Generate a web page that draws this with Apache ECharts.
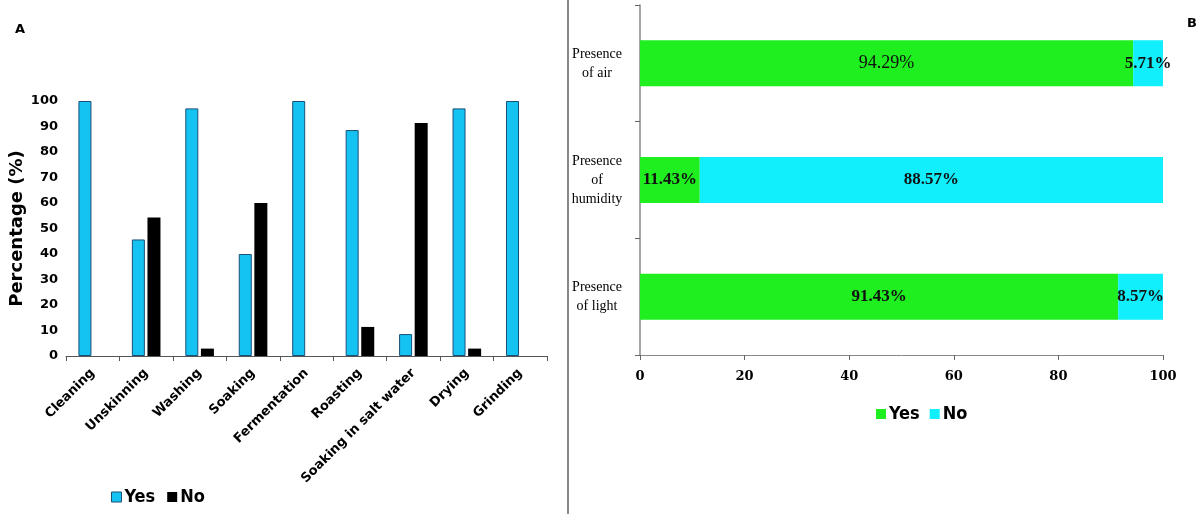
<!DOCTYPE html>
<html>
<head>
<meta charset="utf-8">
<script src="https://cdn.jsdelivr.net/npm/echarts@6/dist/echarts.min.js"></script>
<style>
  html, body { margin: 0; padding: 0; background: #fff; }
  #chart { width: 1197px; height: 514px; }
</style>
</head>
<body>
<div id="chart"></div>
<script>
  // panel A - processing steps
  var steps = ['Cleaning', 'Unskinning', 'Washing', 'Soaking', 'Fermentation', 'Roasting', 'Soaking in salt water', 'Drying', 'Grinding'];
  var stepsYes = [100, 45.7, 97.1, 40, 100, 88.6, 8.6, 97.1, 100];
  var stepsNo = [0, 54.3, 2.9, 60, 0, 11.4, 91.4, 2.9, 0];
  var percentTicks = [0, 10, 20, 30, 40, 50, 60, 70, 80, 90, 100];

  // panel B - storage conditions
  var conditions = ['Presence\nof air', 'Presence\nof\nhumidity', 'Presence\nof light'];
  var condYes = [94.29, 11.43, 91.43];
  var condNo = [5.71, 88.57, 8.57];

  var blue = '#15c3f2', green = '#1fee1f', cyan = '#11eefc';
  var sans = 'DejaVu Sans', cond = 'DejaVu Sans Condensed, DejaVu Sans', serif = 'Liberation Serif';

  var chart = echarts.init(document.getElementById('chart'));

  var option = {
    animation: false,
    title: [
      { text: 'A', left: 10, top: 18, textStyle: { fontFamily: sans, fontSize: 13, fontWeight: 'bold', color: '#000' } },
      { text: 'B', left: 1182, top: 12, textStyle: { fontFamily: sans, fontSize: 13, fontWeight: 'bold', color: '#000' } }
    ],
    graphic: [{
      type: 'line',
      shape: { x1: 568, y1: 0, x2: 568, y2: 514 },
      style: { stroke: '#888', lineWidth: 2 }
    }],
    legend: [
      {
        left: 106, top: 483, itemWidth: 10, itemHeight: 10, itemGap: 12, selectedMode: false,
        icon: 'rect',
        textStyle: { fontFamily: cond, fontSize: 18, fontWeight: 'bold', color: '#000', padding: [0, 0, 0, -2] },
        data: [
          { name: 'Yes', itemStyle: { color: blue, borderColor: '#1b4f78', borderWidth: 1 } },
          { name: 'No', itemStyle: { color: '#000', borderWidth: 0 } }
        ]
      },
      {
        left: 871, top: 400, itemWidth: 10, itemHeight: 10, itemGap: 10, selectedMode: false,
        icon: 'rect',
        textStyle: { fontFamily: cond, fontSize: 18, fontWeight: 'bold', color: '#000', padding: [0, 0, 0, -2] },
        data: [
          { name: 'Yes', itemStyle: { color: green, borderWidth: 0 } },
          { name: 'No', itemStyle: { color: cyan, borderWidth: 0 } }
        ]
      }
    ],
    grid: [
      { left: 66, right: 650, top: 101, bottom: 158 },
      { left: 640, right: 34, top: 5, bottom: 159 }
    ],
    xAxis: [
      {
        gridIndex: 0, type: 'category', data: steps,
        axisLine: { lineStyle: { color: '#555', width: 1 } },
        axisTick: { show: true, length: 5, lineStyle: { color: '#555' } },
        axisLabel: { interval: 0, rotate: 45, margin: 15, fontFamily: sans, fontSize: 13, fontWeight: 'bold', color: '#000' }
      },
      {
        gridIndex: 1, type: 'value', min: 0, max: 100, interval: 20,
        splitLine: { show: false },
        axisLine: { show: true, lineStyle: { color: '#888' } },
        axisTick: { show: true, length: 5, lineStyle: { color: '#666' } },
        axisLabel: { margin: 15, fontFamily: 'DejaVu Serif', fontSize: 13, fontWeight: 'bold', color: '#000' }
      }
    ],
    yAxis: [
      {
        gridIndex: 0, type: 'value', min: 0, max: 100, interval: 10,
        name: 'Percentage (%)', nameLocation: 'middle', nameGap: 40,
        nameTextStyle: { fontFamily: sans, fontSize: 18, fontWeight: 'bold', color: '#000' },
        splitLine: { show: false },
        axisLine: { show: false },
        axisTick: { show: false },
        axisLabel: {
          margin: 8, fontFamily: sans, fontSize: 13, fontWeight: 'bold', color: '#000',
          formatter: function (v) { return percentTicks.indexOf(v) >= 0 ? String(v) : ''; }
        }
      },
      {
        gridIndex: 1, type: 'category', data: conditions, inverse: true,
        axisLine: { lineStyle: { color: '#888', width: 1.5 } },
        axisTick: { show: true, length: 5, lineStyle: { color: '#666' } },
        axisLabel: { margin: 43, fontFamily: serif, fontSize: 14, lineHeight: 19, color: '#000', align: 'center' }
      }
    ],
    series: [
      {
        name: 'Yes', type: 'bar', xAxisIndex: 0, yAxisIndex: 0,
        data: stepsYes, barWidth: 13, barGap: '20%',
        itemStyle: { color: blue, borderColor: '#1b4f78', borderWidth: 1 }
      },
      {
        name: 'No', type: 'bar', xAxisIndex: 0, yAxisIndex: 0,
        data: stepsNo, barWidth: 13, barGap: '20%',
        itemStyle: { color: '#000' }
      },
      {
        name: 'Yes', type: 'bar', xAxisIndex: 1, yAxisIndex: 1, stack: 'cond',
        data: condYes.map(function (v, i) {
          return i === 0
            ? { value: v, label: { fontSize: 18, fontWeight: 'normal' } }
            : v;
        }),
        barWidth: 46,
        itemStyle: { color: green },
        label: {
          show: true, position: 'inside', fontFamily: serif, fontSize: 17, fontWeight: 'bold', color: '#111',
          formatter: function (p) { return p.value.toFixed(2) + '%'; }
        }
      },
      {
        name: 'No', type: 'bar', xAxisIndex: 1, yAxisIndex: 1, stack: 'cond',
        data: condNo, barWidth: 46,
        itemStyle: { color: cyan },
        label: {
          show: true, position: 'inside', fontFamily: serif, fontSize: 17, fontWeight: 'bold', color: '#111',
          formatter: function (p) { return p.value.toFixed(2) + '%'; }
        }
      }
    ]
  };

  chart.setOption(option);
</script>
</body>
</html>
